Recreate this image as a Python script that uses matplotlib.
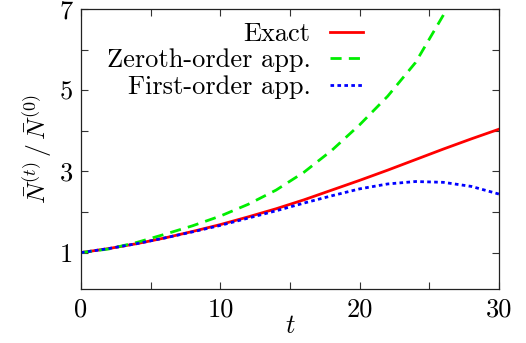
import matplotlib
matplotlib.use("Agg")
import matplotlib.pyplot as plt

# valores
t = [0, 2, 4, 6, 8, 10, 12, 14, 16, 18, 20, 22, 24, 26, 28, 30]
exacta = [1.00, 1.10, 1.22, 1.36, 1.52, 1.69, 1.88, 2.08, 2.30, 2.54, 2.78, 3.03, 3.29, 3.55, 3.80, 4.04]
orden_cero = [1.00, 1.09, 1.25, 1.45, 1.66, 1.90, 2.19, 2.54, 2.98, 3.52, 4.15, 4.85, 5.68, 6.85, 8.10, 9.60]
orden_uno = [1.00, 1.10, 1.22, 1.36, 1.51, 1.67, 1.85, 2.03, 2.22, 2.40, 2.57, 2.69, 2.75, 2.73, 2.63, 2.44]

xticks = [0, 5, 10, 15, 20, 25, 30]
xlabels = ["0", "", "10", "", "20", "", "30"]
yticks = [1, 2, 3, 4, 5, 6, 7]
ylabels = ["1", "", "3", "", "5", "", "7"]

plt.rcParams["font.family"] = "cmr10"
plt.rcParams["mathtext.fontset"] = "cm"
plt.rcParams["axes.unicode_minus"] = False

fig = plt.figure(figsize=(5.26, 3.43), dpi=100)
ax = fig.add_axes([0.154, 0.157, 0.795, 0.817])

ax.plot(t, exacta, color="#ff0000", lw=2, label="Exact")
ax.plot(t, orden_cero, color="#00ee00", lw=2, dashes=(4, 2.6), label="Zeroth-order app.")
ax.plot(t, orden_uno, color="#0000ff", lw=2, dashes=(1.3, 1.2), label="First-order app.")

ax.set_xlim(0, 30)
ax.set_ylim(0.1, 7)
ax.set_xticks(xticks)
ax.set_xticklabels(xlabels)
ax.set_yticks(yticks)
ax.set_yticklabels(ylabels)
ax.tick_params(direction="in", top=True, right=True, length=5, width=0.8,
               labelsize=19, pad=6, color="#333333")
for s in ax.spines.values():
    s.set_linewidth(0.9)
    s.set_color("#222222")

ax.set_xlabel(r"$t$", fontsize=19, labelpad=-5)
ax.set_ylabel(r"$\bar{N}^{(t)}\,/\,\bar{N}^{(0)}$", fontsize=18.5, labelpad=4)

ax.legend(loc="upper right", bbox_to_anchor=(0.688, 0.971), frameon=False, markerfirst=False,
          fontsize=19, handlelength=1.25, handletextpad=0.75, labelspacing=0.1,
          borderaxespad=0.0, borderpad=0.2)

fig.savefig("out.png", dpi=100)
